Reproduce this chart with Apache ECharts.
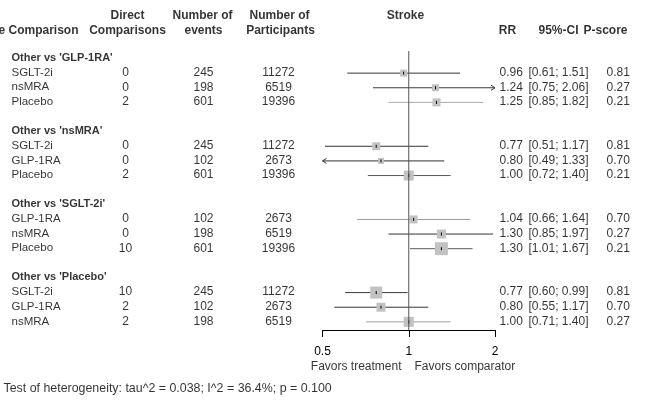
<!DOCTYPE html>
<html><head><meta charset="utf-8">
<script src="https://cdn.jsdelivr.net/npm/echarts@6/dist/echarts.min.js"></script>
<style>html,body{margin:0;padding:0;background:#fff}#c{width:657px;height:401px}</style>
</head><body><div id="c"></div>
<script>
// ---------- data ----------
const groups = ["Other vs 'GLP-1RA'", "Other vs 'nsMRA'", "Other vs 'SGLT-2i'", "Other vs 'Placebo'"];
const treatments = [["SGLT-2i","nsMRA","Placebo"],["SGLT-2i","GLP-1RA","Placebo"],["GLP-1RA","nsMRA","Placebo"],["SGLT-2i","GLP-1RA","nsMRA"]];
const directComparisons = [[0,0,2],[0,0,2],[0,0,10],[10,2,2]];
const numEvents = [[245,198,601],[245,102,601],[102,198,601],[245,102,198]];
const numParticipants = [[11272,6519,19396],[11272,2673,19396],[2673,6519,19396],[11272,2673,6519]];
const rr = [[0.96,1.24,1.25],[0.77,0.80,1.00],[1.04,1.30,1.30],[0.77,0.80,1.00]];
const ciLower = [[0.61,0.75,0.85],[0.51,0.49,0.72],[0.66,0.85,1.01],[0.60,0.55,0.71]];
const ciUpper = [[1.51,2.06,1.82],[1.17,1.33,1.40],[1.64,1.97,1.67],[0.99,1.17,1.40]];
const pScore = [[0.81,0.27,0.21],[0.81,0.70,0.21],[0.70,0.27,0.21],[0.81,0.70,0.27]];
const weight = [[7,7,8],[8,6,10],[8,9,13],[12,9,10]];   // relative weight (square size)
const xTicks = [0.5, 1, 2];
const heterogeneity = "Test of heterogeneity: tau^2 = 0.038; I^2 = 36.4%; p = 0.100";

// ---------- styles ----------
const lineColors = [["#333","#3a3a3a","#a8a8a8"],["#333","#333","#5a5a5a"],["#9a9a9a","#333","#5a5a5a"],["#3a3a3a","#333","#a0a0a0"]];
const FONT = "'Liberation Sans', Arial, Helvetica, sans-serif";
const FS = 12;
const S = 14.63, K0 = 58.5;          // row spacing and y of first row (px)
const kOf = y => (y - K0) / S;
const XMIN = xTicks[0], XMAX = xTicks[xTicks.length - 1];

const forestData = [];
const tx = {titles:[], names:[], direct:[], events:[], part:[], rr:[], ci:[], ps:[]};
groups.forEach((g, gi) => {
  const tk = gi * 5;
  tx.titles.push({name: g, value: [12, tk]});
  treatments[gi].forEach((t, i) => {
    const k = tk + 1 + i;
    forestData.push([rr[gi][i], ciLower[gi][i], ciUpper[gi][i], k, weight[gi][i], gi, i]);
    tx.names.push({name: t, value: [12, k]});
    tx.direct.push({name: String(directComparisons[gi][i]), value: [126, k]});
    tx.events.push({name: String(numEvents[gi][i]), value: [204, k]});
    tx.part.push({name: String(numParticipants[gi][i]), value: [279, k]});
    tx.rr.push({name: rr[gi][i].toFixed(2), value: [500, k]});
    tx.ci.push({name: '[' + ciLower[gi][i].toFixed(2) + '; ' + ciUpper[gi][i].toFixed(2) + ']', value: [529, k]});
    tx.ps.push({name: pScore[gi][i].toFixed(2), value: [607, k]});
  });
});

const h1 = kOf(16.5), h2 = kOf(31);
const headerBold = [
  {name: 'e Comparison', value: [-1, h2], a: 'left'},
  {name: 'Direct', value: [128, h1], a: 'center'},
  {name: 'Comparisons', value: [128, h2], a: 'center'},
  {name: 'Number of', value: [203, h1], a: 'center'},
  {name: 'events', value: [204, h2], a: 'center'},
  {name: 'Number of', value: [280, h1], a: 'center'},
  {name: 'Participants', value: [281, h2], a: 'center'},
  {name: 'Stroke', value: [406, h1], a: 'center'},
  {name: 'RR', value: [508, h2], a: 'center'},
  {name: '95%-CI', value: [579, h2], a: 'right'},
  {name: 'P-score', value: [584, h2], a: 'left'}
];
const favors = [
  {name: 'Favors treatment', value: [402, kOf(367)], a: 'right'},
  {name: 'Favors comparator', value: [415, kOf(367)], a: 'left'}
];
const footer = [{name: heterogeneity, value: [4, kOf(389)], a: 'left'}];

function textSeries(data, align, bold, size) {
  return {
    type: 'scatter', xAxisIndex: 1, yAxisIndex: 1, silent: true, symbolSize: 1,
    itemStyle: {color: 'rgba(0,0,0,0)'}, clip: false,
    data: data.map(d => ({name: d.name, value: d.value,
      label: {align: d.a || align}})),
    label: {show: true, formatter: '{b}', position: [0, 0], align: align, verticalAlign: 'middle',
      color: '#000', fontFamily: FONT, fontSize: size || FS, fontWeight: bold ? 'bold' : 'normal'}
  };
}

const gTop = 51, gBottom = 330;
const chart = echarts.init(document.getElementById('c'));
chart.setOption({
  animation: false,
  grid: [
    {left: 322.5, width: 172.5, top: gTop, height: gBottom - gTop},
    {left: 0, width: 657, top: 0, height: 401}
  ],
  xAxis: [
    {type: 'log', logBase: 2, min: XMIN, max: XMAX, gridIndex: 0, interval: 1, position: 'bottom',
      axisLine: {onZero: false, lineStyle: {color: '#000', width: 1}},
      axisTick: {length: 7, lineStyle: {color: '#000'}},
      splitLine: {show: false},
      axisLabel: {margin: 16, color: '#000', fontFamily: FONT, fontSize: FS,
        formatter: v => String(Math.round(v * 100) / 100)}},
    {type: 'value', min: 0, max: 657, gridIndex: 1, show: false}
  ],
  yAxis: [
    {type: 'value', inverse: true, min: kOf(gTop), max: kOf(gBottom), gridIndex: 0, show: false},
    {type: 'value', inverse: true, min: kOf(0), max: kOf(401), gridIndex: 1, show: false}
  ],
  series: [
    {type: 'line', xAxisIndex: 0, yAxisIndex: 0, symbol: 'none', silent: true,
      data: [[1, kOf(gTop)], [1, kOf(gBottom)]], lineStyle: {color: '#555', width: 1}},
    {type: 'custom', xAxisIndex: 0, yAxisIndex: 0, clip: false, silent: true,
      data: forestData,
      renderItem: (params, api) => {
        const est = api.value(0), lo = api.value(1), hi = api.value(2), k = api.value(3), w = api.value(4);
        const gi = api.value(5), ri = api.value(6);
        const col = lineColors[gi][ri];
        const a = api.coord([Math.max(lo, XMIN), k]);
        const b = api.coord([Math.min(hi, XMAX), k]);
        const c = api.coord([est, k]);
        const ch = [
          {type: 'line', shape: {x1: a[0], y1: a[1], x2: b[0], y2: b[1]}, style: {stroke: col, lineWidth: 1}},
          {type: 'rect', shape: {x: c[0] - w / 2, y: c[1] - w / 2, width: w, height: w}, style: {fill: '#c2c2c2'}},
          {type: 'line', shape: {x1: c[0], y1: c[1] - 1.5, x2: c[0], y2: c[1] + 1.5}, style: {stroke: '#000', lineWidth: 1}}
        ];
        if (hi > XMAX) ch.push({type: 'polyline', shape: {points: [[b[0] - 4, b[1] - 2.5], [b[0], b[1]], [b[0] - 4, b[1] + 2.5]]}, style: {stroke: col, fill: null, lineWidth: 1}});
        if (lo < XMIN) ch.push({type: 'polyline', shape: {points: [[a[0] + 4, a[1] - 2.5], [a[0], a[1]], [a[0] + 4, a[1] + 2.5]]}, style: {stroke: col, fill: null, lineWidth: 1}});
        return {type: 'group', children: ch};
      }},
    textSeries(tx.titles, 'left', true, 11),
    textSeries(tx.names, 'left', false, 11.5),
    textSeries(tx.direct, 'center', false),
    textSeries(tx.events, 'center', false),
    textSeries(tx.part, 'center', false),
    textSeries(tx.rr, 'left', false),
    textSeries(tx.ci, 'left', false),
    textSeries(tx.ps, 'left', false),
    textSeries(headerBold, 'left', true),
    textSeries(favors, 'left', false),
    textSeries(footer, 'left', false, 12.4)
  ]
});
</script></body></html>
